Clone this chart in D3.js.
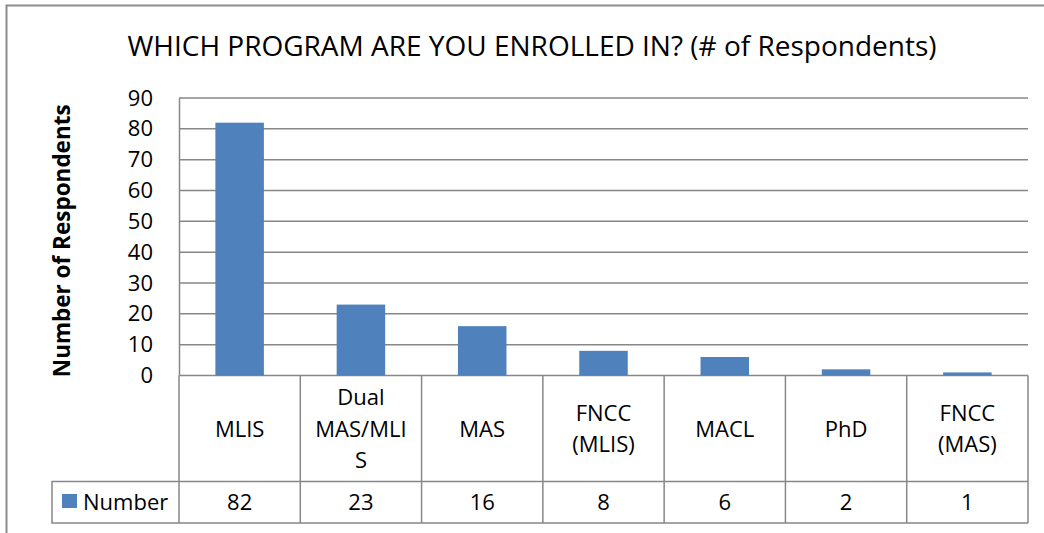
<!DOCTYPE html>
<html>
<head>
<meta charset="utf-8">
<script src="https://cdn.jsdelivr.net/npm/d3@7"></script>
<style>
  body { margin: 0; background: #fff; }
  svg { display: block; font-family: "Open Sans", sans-serif; }
</style>
</head>
<body>
<div id="chart"></div>
<script>
// data
const categories = [["MLIS"], ["Dual", "MAS/MLI", "S"], ["MAS"], ["FNCC", "(MLIS)"], ["MACL"], ["PhD"], ["FNCC", "(MAS)"]];
const values = [82, 23, 16, 8, 6, 2, 1];
const yTicks = [0, 10, 20, 30, 40, 50, 60, 70, 80, 90];
const seriesName = "Number";

const width = 1044, height = 533;
const margin = {top: 98, right: 16, left: 179};
const plotBottom = 375.5;
const labelRowBottom = 481.5;
const tableBottom = 523;
const gridColor = "#878787";
const barColor = "#4f81bd";
const fontSize = "22px";

const svg = d3.select("#chart").append("svg")
  .attr("width", width)
  .attr("height", height);

// chart frame
svg.append("path")
  .attr("d", `M6.5,${height} V5.5 H${width}`)
  .attr("fill", "none")
  .attr("stroke", "#8c8c8c")
  .attr("stroke-width", 2);

svg.append("text")
  .attr("x", 532)
  .attr("y", 56)
  .attr("text-anchor", "middle")
  .attr("font-size", "28px")
  .attr("fill", "#000")
  .text("WHICH PROGRAM ARE YOU ENROLLED IN? (# of Respondents)");

const keys = d3.range(values.length);
const x = d3.scaleBand()
  .domain(keys)
  .range([margin.left, width - margin.right])
  .paddingInner(0.6)
  .paddingOuter(0.3);
const step = x.step();
const colLeft = i => margin.left + i * step;

const y = d3.scaleLinear()
  .domain([0, 90])
  .range([plotBottom, margin.top]);

// gridlines
svg.append("g")
  .selectAll("line")
  .data(yTicks)
  .join("line")
  .attr("x1", margin.left)
  .attr("x2", width - margin.right)
  .attr("y1", d => y(d))
  .attr("y2", d => y(d))
  .attr("stroke", gridColor)
  .attr("stroke-width", 1.5);

// y axis
const yAxis = svg.append("g")
  .attr("transform", `translate(${margin.left},0)`)
  .call(d3.axisLeft(y).tickValues(yTicks).tickSize(0).tickPadding(26));
yAxis.select(".domain").attr("stroke", gridColor).attr("stroke-width", 1.5);
yAxis.selectAll("text")
  .attr("font-size", fontSize)
  .attr("fill", "#000")
  .attr("font-family", "'Open Sans', sans-serif");

svg.append("text")
  .attr("transform", `translate(70,${(margin.top + plotBottom) / 2 + 4}) rotate(-90)`)
  .attr("text-anchor", "middle")
  .attr("font-size", "22.5px")
  .attr("font-weight", "bold")
  .text("Number of Respondents");

// bars
svg.append("g")
  .selectAll("rect")
  .data(values)
  .join("rect")
  .attr("x", (d, i) => x(i))
  .attr("width", x.bandwidth())
  .attr("y", d => y(d))
  .attr("height", d => plotBottom - y(d))
  .attr("fill", barColor);

// data table
const table = svg.append("g")
  .attr("stroke", gridColor)
  .attr("stroke-width", 1.5)
  .attr("fill", "none");
table.append("line")
  .attr("x1", margin.left).attr("x2", width - margin.right)
  .attr("y1", labelRowBottom).attr("y2", labelRowBottom);
table.append("path")
  .attr("d", `M${margin.left},${labelRowBottom} H52 V${tableBottom} H${width - margin.right}`);
table.selectAll(".col")
  .data(d3.range(values.length + 1))
  .join("line")
  .attr("class", "col")
  .attr("x1", i => colLeft(i)).attr("x2", i => colLeft(i))
  .attr("y1", plotBottom).attr("y2", tableBottom);

const lineH = 31.5;
const labelMid = (plotBottom + labelRowBottom) / 2;
svg.append("g")
  .selectAll("text")
  .data(categories)
  .join("text")
  .attr("text-anchor", "middle")
  .attr("font-size", fontSize)
  .attr("fill", "#000")
  .each(function(lines, i) {
    const cx = colLeft(i) + step / 2;
    d3.select(this).selectAll("tspan")
      .data(lines)
      .join("tspan")
      .attr("x", cx)
      .attr("y", (l, j) => labelMid + 8 + (j - (lines.length - 1) / 2) * lineH)
      .text(l => l);
  });

const valueMid = (labelRowBottom + tableBottom) / 2 + 8;
svg.append("g")
  .selectAll("text")
  .data(values)
  .join("text")
  .attr("x", (d, i) => colLeft(i) + step / 2)
  .attr("y", valueMid)
  .attr("text-anchor", "middle")
  .attr("font-size", fontSize)
  .text(d => d);

// legend key inside the table
svg.append("rect")
  .attr("x", 62).attr("y", 494)
  .attr("width", 15).attr("height", 14)
  .attr("fill", barColor);
svg.append("text")
  .attr("x", 83).attr("y", valueMid)
  .attr("font-size", fontSize)
  .text(seriesName);
</script>
</body>
</html>
